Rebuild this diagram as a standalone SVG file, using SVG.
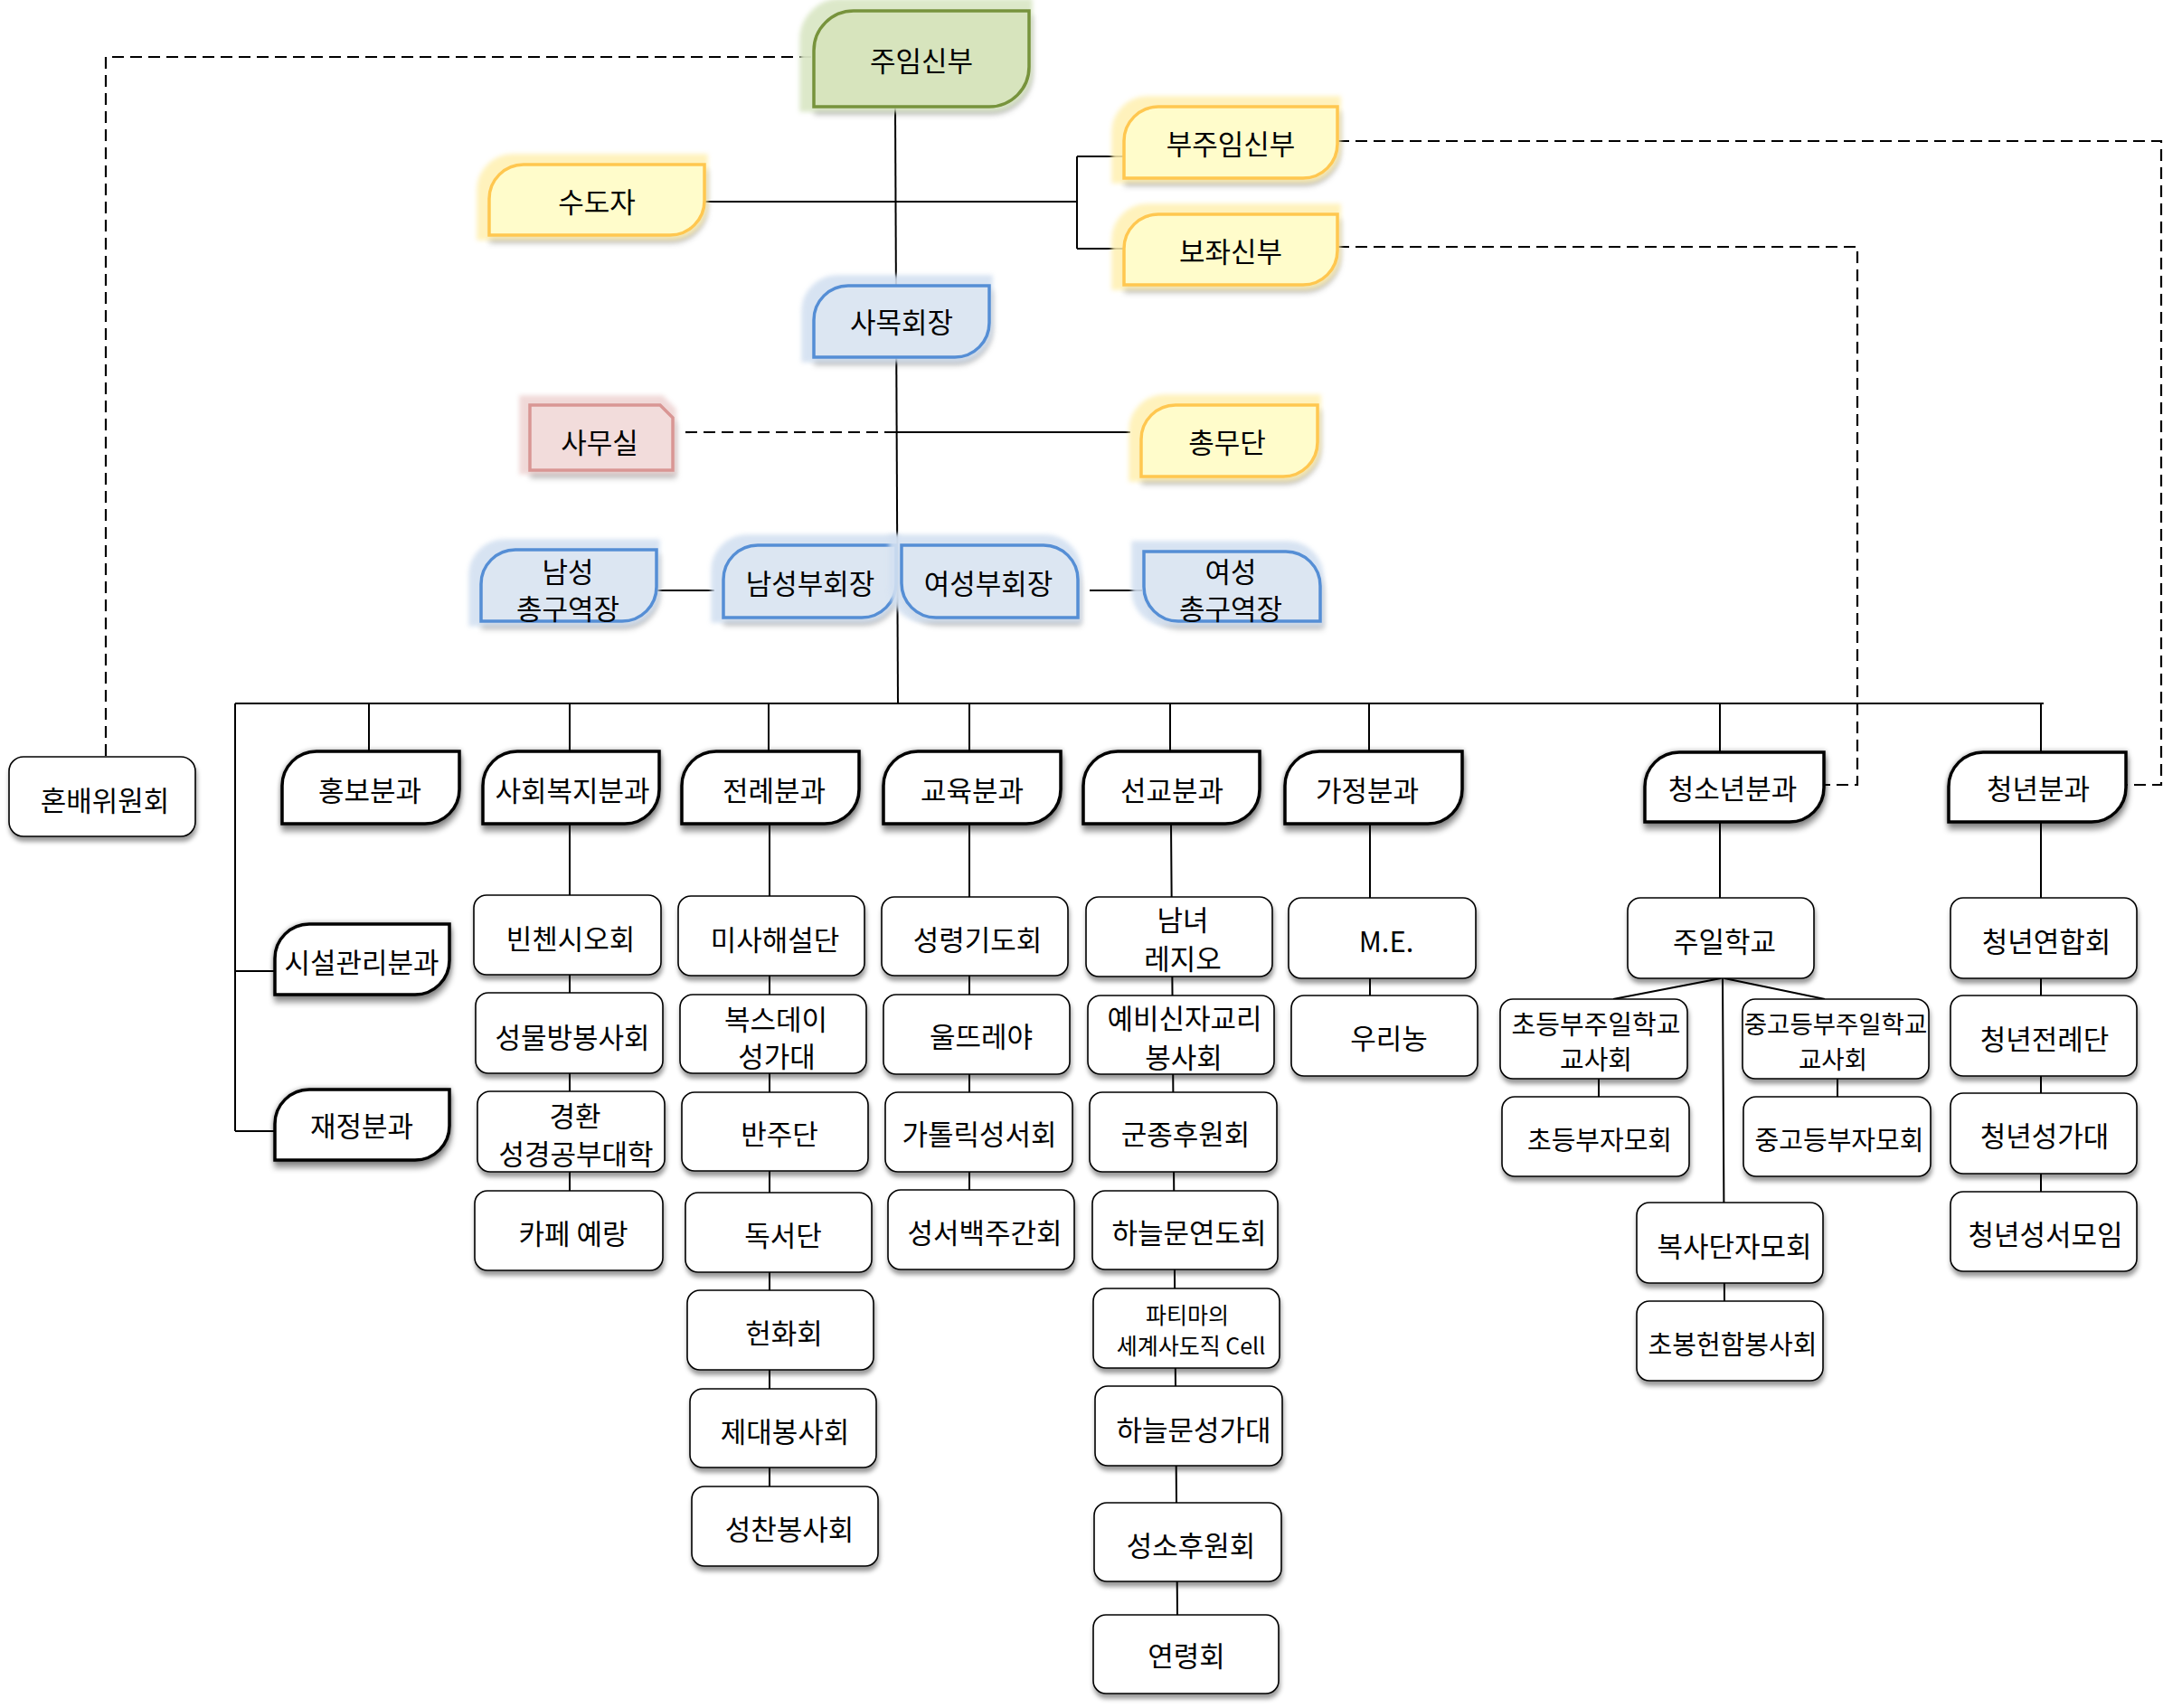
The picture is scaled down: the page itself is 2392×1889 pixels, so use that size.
<svg xmlns="http://www.w3.org/2000/svg" width="2392" height="1889" viewBox="0 0 2392 1889">
<defs>
<style>
.t{font-family:"Noto Sans CJK KR","Noto Sans",sans-serif;font-size:31px;fill:#000;text-anchor:middle;dominant-baseline:central}
.ln{stroke:#000;stroke-width:2;fill:none}
.ds{stroke:#000;stroke-width:2.2;fill:none;stroke-dasharray:13 7}
.sub{fill:#fff;stroke:#000;stroke-width:1.6;filter:url(#sh2)}
.div{fill:#fff;stroke:#000;stroke-width:3.5;filter:url(#sh)}
.yel{fill:#FFFCCB;stroke:#FFC750;stroke-width:3.5;filter:url(#gY)}
.blu{fill:#DCE6F2;stroke:#558ED5;stroke-width:3.5;filter:url(#gB)}
.grn{fill:#D7E4BD;stroke:#77933C;stroke-width:3.5;filter:url(#gG)}
.pnk{fill:#F2DCDB;stroke:#D99694;stroke-width:3.5;filter:url(#gP)}
</style>
<filter id="gY" x="-15%" y="-25%" width="130%" height="160%" color-interpolation-filters="sRGB">
<feMorphology in="SourceAlpha" operator="dilate" radius="7" result="d"/>
<feOffset in="d" dx="-5" dy="-3" result="do"/>
<feGaussianBlur in="do" stdDeviation="2.5" result="db"/>
<feFlood flood-color="#FFF0B0" flood-opacity="0.85"/>
<feComposite in2="db" operator="in" result="glow"/>
<feGaussianBlur in="SourceAlpha" stdDeviation="3" result="sb"/>
<feOffset in="sb" dx="2" dy="7" result="so"/>
<feFlood flood-color="#000" flood-opacity="0.28"/>
<feComposite in2="so" operator="in" result="shadow"/>
<feMerge><feMergeNode in="shadow"/><feMergeNode in="glow"/><feMergeNode in="SourceGraphic"/></feMerge>
</filter>
<filter id="gB" x="-15%" y="-25%" width="130%" height="160%" color-interpolation-filters="sRGB">
<feMorphology in="SourceAlpha" operator="dilate" radius="7" result="d"/>
<feOffset in="d" dx="-5" dy="-3" result="do"/>
<feGaussianBlur in="do" stdDeviation="2.5" result="db"/>
<feFlood flood-color="#D3E0F1" flood-opacity="0.9"/>
<feComposite in2="db" operator="in" result="glow"/>
<feGaussianBlur in="SourceAlpha" stdDeviation="3" result="sb"/>
<feOffset in="sb" dx="2" dy="7" result="so"/>
<feFlood flood-color="#000" flood-opacity="0.28"/>
<feComposite in2="so" operator="in" result="shadow"/>
<feMerge><feMergeNode in="shadow"/><feMergeNode in="glow"/><feMergeNode in="SourceGraphic"/></feMerge>
</filter>
<filter id="gG" x="-15%" y="-25%" width="130%" height="160%" color-interpolation-filters="sRGB">
<feMorphology in="SourceAlpha" operator="dilate" radius="8" result="d"/>
<feOffset in="d" dx="-6" dy="-4" result="do"/>
<feGaussianBlur in="do" stdDeviation="2.5" result="db"/>
<feFlood flood-color="#DAE6C6" flood-opacity="0.95"/>
<feComposite in2="db" operator="in" result="glow"/>
<feGaussianBlur in="SourceAlpha" stdDeviation="3" result="sb"/>
<feOffset in="sb" dx="2" dy="7" result="so"/>
<feFlood flood-color="#000" flood-opacity="0.28"/>
<feComposite in2="so" operator="in" result="shadow"/>
<feMerge><feMergeNode in="shadow"/><feMergeNode in="glow"/><feMergeNode in="SourceGraphic"/></feMerge>
</filter>
<filter id="gP" x="-15%" y="-25%" width="130%" height="160%" color-interpolation-filters="sRGB">
<feMorphology in="SourceAlpha" operator="dilate" radius="6" result="d"/>
<feOffset in="d" dx="-4" dy="-3" result="do"/>
<feGaussianBlur in="do" stdDeviation="2.5" result="db"/>
<feFlood flood-color="#EFD5D4" flood-opacity="0.9"/>
<feComposite in2="db" operator="in" result="glow"/>
<feGaussianBlur in="SourceAlpha" stdDeviation="3" result="sb"/>
<feOffset in="sb" dx="2" dy="7" result="so"/>
<feFlood flood-color="#000" flood-opacity="0.28"/>
<feComposite in2="so" operator="in" result="shadow"/>
<feMerge><feMergeNode in="shadow"/><feMergeNode in="glow"/><feMergeNode in="SourceGraphic"/></feMerge>
</filter>
<filter id="sh" x="-15%" y="-20%" width="130%" height="150%" color-interpolation-filters="sRGB">
<feGaussianBlur in="SourceAlpha" stdDeviation="2.5" result="h"/>
<feFlood flood-color="#000" flood-opacity="0.35"/>
<feComposite in2="h" operator="in" result="halo"/>
<feGaussianBlur in="SourceAlpha" stdDeviation="3" result="sb"/>
<feOffset in="sb" dx="1" dy="7" result="so"/>
<feFlood flood-color="#000" flood-opacity="0.4"/>
<feComposite in2="so" operator="in" result="shadow"/>
<feMerge><feMergeNode in="shadow"/><feMergeNode in="halo"/><feMergeNode in="SourceGraphic"/></feMerge>
</filter>
<filter id="sh2" x="-10%" y="-10%" width="125%" height="135%" color-interpolation-filters="sRGB">
<feGaussianBlur in="SourceAlpha" stdDeviation="2.5" result="sb"/>
<feOffset in="sb" dx="1" dy="5" result="so"/>
<feFlood flood-color="#000" flood-opacity="0.4"/>
<feComposite in2="so" operator="in" result="shadow"/>
<feMerge><feMergeNode in="shadow"/><feMergeNode in="SourceGraphic"/></feMerge>
</filter>
</defs>
<rect width="2392" height="1889" fill="#fff"/>

<g id="connectors">
<path class="ln" d="M990,118 L993,778"/>
<path class="ln" d="M779,223 H1191 M1191,173 V275 M1191,173 H1243 M1191,275 H1243"/>
<path class="ds" d="M758,478 H992"/>
<path class="ln" d="M992,478 H1250"/>
<path class="ln" d="M726,653 H790 M1205,653 H1263"/>
<path class="ds" d="M897,63 H117 V837"/>
<path class="ds" d="M1479,156 H2390 V868 H2351"/>
<path class="ds" d="M1479,273 H2054 V868 H2018"/>
<path class="ln" d="M260,778 H2260 M260,778 V1251 M260,1074 H304 M260,1251 H304"/>
<path class="ln" d="M408,778 V831 M630,778 V831 M850,778 V831 M1072,778 V831 M1294,778 V831 M1514,778 V831 M1902,778 V832 M2257,778 V832"/>
<path class="ln" d="M630,911 V1317 M851,911 V1644 M1072,911 V1316 M1295,911 L1302,1786 M1515,911 V1101 M1902,909 V993 M1905,1082 L1907,1439 M2257,909 V1318"/>
<path class="ln" d="M1903,1082 L1784,1105 M1907,1082 L2018,1105 M1768,1193 V1213 M2032,1193 V1213"/>
</g>

<g id="n-jumim"><path class="grn" d="M900,118 V56 A44,44 0 0 1 944,12 H1138 V74 A44,44 0 0 1 1094,118 Z"/><text class="t" x="1019" y="65">주임신부</text></g>
<g id="n-bujumim"><path class="yel" d="M1243,197 V156 A38,38 0 0 1 1281,118 H1479 V159 A38,38 0 0 1 1441,197 Z"/><text class="t" x="1361" y="157">부주임신부</text></g>
<g id="n-bojwa"><path class="yel" d="M1243,315 V275 A38,38 0 0 1 1281,237 H1479 V277 A38,38 0 0 1 1441,315 Z"/><text class="t" x="1361" y="276">보좌신부</text></g>
<g id="n-sudoja"><path class="yel" d="M541,260 V220 A38,38 0 0 1 579,182 H779 V222 A38,38 0 0 1 741,260 Z"/><text class="t" x="660" y="221">수도자</text></g>
<g id="n-samok"><path class="blu" d="M900,395 V354 A38,38 0 0 1 938,316 H1094 V357 A38,38 0 0 1 1056,395 Z"/><text class="t" x="997" y="354">사목회장</text></g>
<g id="n-samusil"><path class="pnk" d="M586,448 H730 L744,462 V520 H586 Z"/><text class="t" x="663" y="487">사무실</text></g>
<g id="n-chongmu"><path class="yel" d="M1262,527 V486 A38,38 0 0 1 1300,448 H1457 V489 A38,38 0 0 1 1419,527 Z"/><text class="t" x="1357" y="487">총무단</text></g>
<g id="n-nam-guyeok"><path class="blu" d="M532,687 V646 A38,38 0 0 1 570,608 H726 V649 A38,38 0 0 1 688,687 Z"/><text class="t"><tspan x="628" y="630">남성</tspan><tspan x="628" y="671">총구역장</tspan></text></g>
<g id="n-nam-buhoe"><path class="blu" d="M800,683 V641 A38,38 0 0 1 838,603 H991 V645 A38,38 0 0 1 953,683 Z"/><text class="t" x="896" y="643">남성부회장</text></g>
<g id="n-yeo-buhoe"><path class="blu" d="M997,603 H1154 A38,38 0 0 1 1192,641 V683 H1035 A38,38 0 0 1 997,645 Z"/><text class="t" x="1093" y="643">여성부회장</text></g>
<g id="n-yeo-guyeok"><path class="blu" d="M1265,610 H1422 A38,38 0 0 1 1460,648 V687 H1303 A38,38 0 0 1 1265,649 Z"/><text class="t"><tspan x="1361" y="630">여성</tspan><tspan x="1361" y="671">총구역장</tspan></text></g>

<g id="n-honbae"><rect class="sub" x="10" y="837" width="206" height="88" rx="16"/><text class="t" x="116" y="883">혼배위원회</text></g>

<g id="n-hongbo"><path class="div" d="M312,911 V869 A38,38 0 0 1 350,831 H508 V873 A38,38 0 0 1 470,911 Z"/><text class="t" x="409" y="872">홍보분과</text></g>
<g id="n-bokji"><path class="div" d="M534,911 V869 A38,38 0 0 1 572,831 H729 V873 A38,38 0 0 1 691,911 Z"/><text class="t" x="633" y="872">사회복지분과</text></g>
<g id="n-jeonrye"><path class="div" d="M754,911 V869 A38,38 0 0 1 792,831 H950 V873 A38,38 0 0 1 912,911 Z"/><text class="t" x="856" y="872">전례분과</text></g>
<g id="n-gyoyuk"><path class="div" d="M977,911 V869 A38,38 0 0 1 1015,831 H1173 V873 A38,38 0 0 1 1135,911 Z"/><text class="t" x="1075" y="872">교육분과</text></g>
<g id="n-seongyo"><path class="div" d="M1198,911 V869 A38,38 0 0 1 1236,831 H1393 V873 A38,38 0 0 1 1355,911 Z"/><text class="t" x="1296" y="872">선교분과</text></g>
<g id="n-gajeong"><path class="div" d="M1421,911 V869 A38,38 0 0 1 1459,831 H1617 V873 A38,38 0 0 1 1579,911 Z"/><text class="t" x="1512" y="872">가정분과</text></g>
<g id="n-cheongsonyeon"><path class="div" d="M1819,909 V870 A38,38 0 0 1 1857,832 H2017 V871 A38,38 0 0 1 1979,909 Z"/><text class="t" x="1916" y="870">청소년분과</text></g>
<g id="n-cheongnyeon"><path class="div" d="M2155,909 V870 A38,38 0 0 1 2193,832 H2351 V871 A38,38 0 0 1 2313,909 Z"/><text class="t" x="2254" y="870">청년분과</text></g>
<g id="n-siseol"><path class="div" d="M304,1100 V1060 A38,38 0 0 1 342,1022 H497 V1062 A38,38 0 0 1 459,1100 Z"/><text class="t" x="400" y="1062">시설관리분과</text></g>
<g id="n-jaejeong"><path class="div" d="M304,1283 V1243 A38,38 0 0 1 342,1205 H497 V1245 A38,38 0 0 1 459,1283 Z"/><text class="t" x="400" y="1243">재정분과</text></g>

<g id="n-vincent"><rect class="sub" x="524" y="990" width="207" height="88" rx="14"/><text class="t" x="631" y="1036">빈첸시오회</text></g>
<g id="n-seongmul"><rect class="sub" x="526" y="1098" width="207" height="89" rx="14"/><text class="t" x="633" y="1145">성물방봉사회</text></g>
<g id="n-gyeonghwan"><rect class="sub" x="528" y="1207" width="207" height="89" rx="14"/><text class="t"><tspan x="636" y="1232">경환</tspan><tspan x="637" y="1274">성경공부대학</tspan></text></g>
<g id="n-cafe"><rect class="sub" x="525" y="1317" width="208" height="88" rx="14"/><text class="t" x="634" y="1362">카페 예랑</text></g>

<g id="n-misa"><rect class="sub" x="750" y="991" width="206" height="88" rx="14"/><text class="t" x="857" y="1037">미사해설단</text></g>
<g id="n-boxdei"><rect class="sub" x="752" y="1100" width="206" height="87" rx="14"/><text class="t"><tspan x="858" y="1125">복스데이</tspan><tspan x="859" y="1166">성가대</tspan></text></g>
<g id="n-banju"><rect class="sub" x="754" y="1208" width="206" height="87" rx="14"/><text class="t" x="862" y="1252">반주단</text></g>
<g id="n-dokseo"><rect class="sub" x="758" y="1319" width="206" height="88" rx="14"/><text class="t" x="866" y="1364">독서단</text></g>
<g id="n-heonhwa"><rect class="sub" x="760" y="1427" width="206" height="88" rx="14"/><text class="t" x="867" y="1472">헌화회</text></g>
<g id="n-jedae"><rect class="sub" x="763" y="1536" width="206" height="87" rx="14"/><text class="t" x="868" y="1581">제대봉사회</text></g>
<g id="n-seongchan"><rect class="sub" x="765" y="1644" width="206" height="88" rx="14"/><text class="t" x="873" y="1689">성찬봉사회</text></g>

<g id="n-seongryeong"><rect class="sub" x="975" y="992" width="206" height="87" rx="14"/><text class="t" x="1081" y="1037">성령기도회</text></g>
<g id="n-ultreya"><rect class="sub" x="977" y="1100" width="206" height="88" rx="14"/><text class="t" x="1085" y="1144">울뜨레야</text></g>
<g id="n-catholic"><rect class="sub" x="979" y="1208" width="207" height="88" rx="14"/><text class="t" x="1083" y="1252">가톨릭성서회</text></g>
<g id="n-baekju"><rect class="sub" x="982" y="1316" width="206" height="88" rx="14"/><text class="t" x="1089" y="1361">성서백주간회</text></g>

<g id="n-legio"><rect class="sub" x="1201" y="992" width="206" height="88" rx="14"/><text class="t"><tspan x="1308" y="1015">남녀</tspan><tspan x="1308" y="1058">레지오</tspan></text></g>
<g id="n-yebi"><rect class="sub" x="1203" y="1101" width="206" height="87" rx="14"/><text class="t"><tspan x="1310" y="1124">예비신자교리</tspan><tspan x="1309" y="1167">봉사회</tspan></text></g>
<g id="n-gunjong"><rect class="sub" x="1205" y="1208" width="207" height="88" rx="14"/><text class="t" x="1311" y="1252">군종후원회</text></g>
<g id="n-yeondo"><rect class="sub" x="1208" y="1317" width="205" height="87" rx="14"/><text class="t" x="1315" y="1361">하늘문연도회</text></g>
<g id="n-fatima"><rect class="sub" x="1209" y="1425" width="206" height="88" rx="14"/><text class="t" style="font-size:25px"><tspan x="1313" y="1453">파티마의</tspan><tspan x="1317" y="1487">세계사도직 Cell</tspan></text></g>
<g id="n-haneulmun"><rect class="sub" x="1211" y="1533" width="207" height="88" rx="14"/><text class="t" x="1320" y="1579">하늘문성가대</text></g>
<g id="n-seongso"><rect class="sub" x="1210" y="1662" width="207" height="87" rx="14"/><text class="t" x="1317" y="1707">성소후원회</text></g>
<g id="n-yeonryeong"><rect class="sub" x="1209" y="1786" width="205" height="87" rx="14"/><text class="t" x="1312" y="1829">연령회</text></g>

<g id="n-me"><rect class="sub" x="1425" y="993" width="207" height="89" rx="14"/><text class="t" x="1533" y="1039">M.E.</text></g>
<g id="n-urinong"><rect class="sub" x="1428" y="1101" width="206" height="89" rx="14"/><text class="t" x="1536" y="1146">우리농</text></g>

<g id="n-juil"><rect class="sub" x="1800" y="993" width="206" height="89" rx="14"/><text class="t" x="1907" y="1039">주일학교</text></g>
<g id="n-chodeung-gyosa"><rect class="sub" x="1659" y="1105" width="207" height="88" rx="14"/><text class="t" style="font-size:29px"><tspan x="1765" y="1131">초등부주일학교</tspan><tspan x="1765" y="1170">교사회</tspan></text></g>
<g id="n-junggo-gyosa"><rect class="sub" x="1927" y="1105" width="206" height="88" rx="14"/><text class="t" style="font-size:27.5px"><tspan x="2030" y="1131">중고등부주일학교</tspan><tspan x="2027" y="1170">교사회</tspan></text></g>
<g id="n-chodeung-jamo"><rect class="sub" x="1661" y="1213" width="207" height="88" rx="14"/><text class="t" style="font-size:29px" x="1769" y="1259">초등부자모회</text></g>
<g id="n-junggo-jamo"><rect class="sub" x="1928" y="1213" width="207" height="88" rx="14"/><text class="t" style="font-size:29px" x="2034" y="1259">중고등부자모회</text></g>
<g id="n-boksa"><rect class="sub" x="1810" y="1330" width="206" height="89" rx="14"/><text class="t" x="1918" y="1376">복사단자모회</text></g>
<g id="n-chobong"><rect class="sub" x="1810" y="1439" width="206" height="88" rx="14"/><text class="t" style="font-size:29px" x="1916" y="1485">초봉헌함봉사회</text></g>

<g id="n-yeonhap"><rect class="sub" x="2157" y="993" width="206" height="89" rx="14"/><text class="t" x="2263" y="1039">청년연합회</text></g>
<g id="n-cn-jeonrye"><rect class="sub" x="2157" y="1101" width="206" height="89" rx="14"/><text class="t" x="2261" y="1147">청년전례단</text></g>
<g id="n-cn-seongga"><rect class="sub" x="2157" y="1209" width="206" height="89" rx="14"/><text class="t" x="2261" y="1254">청년성가대</text></g>
<g id="n-cn-seongseo"><rect class="sub" x="2157" y="1318" width="206" height="88" rx="14"/><text class="t" x="2262" y="1363">청년성서모임</text></g>
</svg>
